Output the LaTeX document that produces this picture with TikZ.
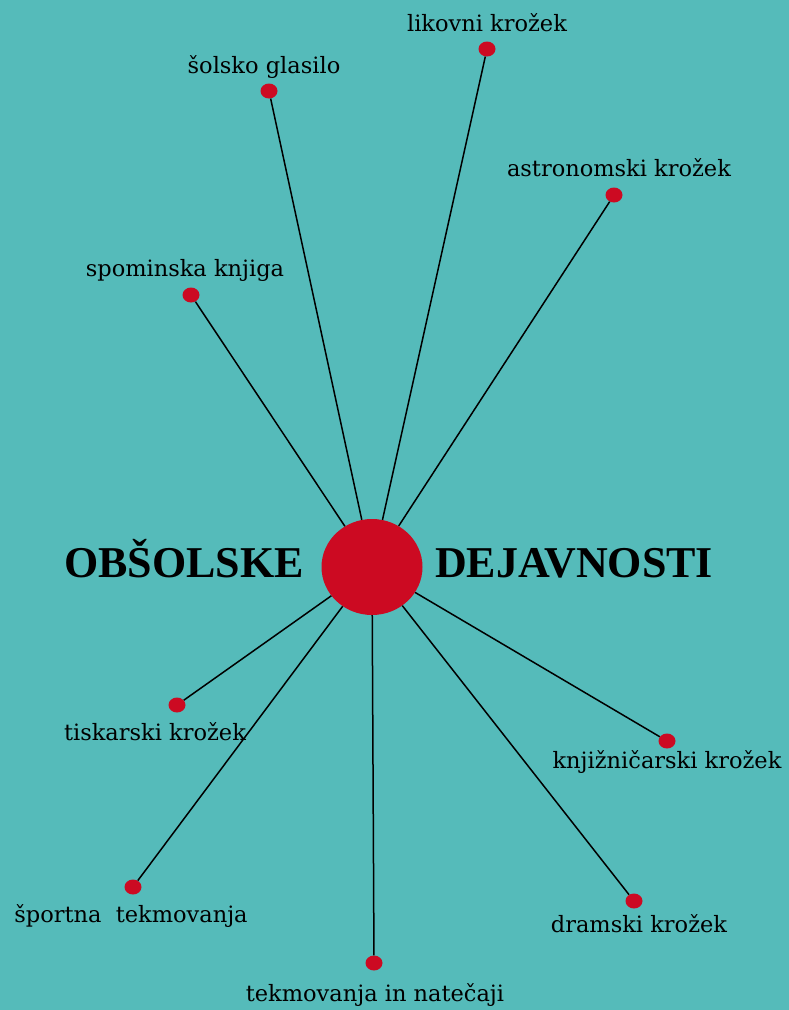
\documentclass[tikz,border=0pt]{standalone}
\usepackage{fontspec}
\setmainfont{DejaVu Serif}
\newfontfamily\titlefont{Liberation Serif}
\usetikzlibrary{shapes.geometric}
\definecolor{bgteal}{HTML}{55BBBA}
\definecolor{dotred}{HTML}{CC0A22}

\begin{document}
\begin{tikzpicture}[
  x=1pt, y=-1pt,
  hub/.style={ellipse, fill=dotred, minimum width=101pt, minimum height=96pt, inner sep=0pt},
  dot/.style={ellipse, fill=dotred, minimum width=17pt, minimum height=15pt, inner sep=0pt},
  lbl/.style={font=\fontsize{22.5}{26}\selectfont, inner sep=0pt},
  ttl/.style={font=\titlefont\bfseries\fontsize{44}{50}\selectfont, inner sep=0pt, anchor=base},
  spoke/.style={line width=1.5pt, black}
]
\fill[bgteal] (0,0) rectangle (789,1010);
\useasboundingbox (0,0) rectangle (789,1010);
\node[hub] (hub) at (372,567) {};
\node[ttl] (left) at (184,577) {OBŠOLSKE};
\node[ttl] (right) at (574,577) {DEJAVNOSTI};
% upper spokes
\node[dot] (spo) at (191,295) {};
\node[dot] (sol) at (269,91) {};
\node[dot] (lik) at (487,49) {};
\node[dot] (ast) at (614,195) {};
\node[lbl] (spoL) at (185,270) {spominska knjiga};
\node[lbl] (solL) at (264,67) {šolsko glasilo};
\node[lbl] (likL) at (487,23) {likovni krožek};
\node[lbl] (astL) at (619,168) {astronomski krožek};
\draw[spoke] (spo) -- (hub);
\draw[spoke] (sol) -- (hub);
\draw[spoke] (lik) -- (hub);
\draw[spoke] (ast) -- (hub);
% lower spokes
\node[dot] (tis) at (177,705) {};
\node[dot] (spt) at (133,887) {};
\node[dot] (tek) at (374,963) {};
\node[dot] (dra) at (634,901) {};
\node[dot] (knj) at (667,741) {};
\node[lbl] (tisL) at (155,732) {tiskarski krožek};
\node[lbl] (sptL) at (131,916) {športna\ \ tekmovanja};
\node[lbl] (tekL) at (375,995) {tekmovanja in natečaji};
\node[lbl] (draL) at (639,924) {dramski krožek};
\node[lbl] (knjL) at (667,762) {knjižničarski krožek};
\draw[spoke] (tis) -- (hub);
\draw[spoke] (spt) -- (hub);
\draw[spoke] (tek) -- (hub);
\draw[spoke] (dra) -- (hub);
\draw[spoke] (knj) -- (hub);
\end{tikzpicture}
\end{document}
